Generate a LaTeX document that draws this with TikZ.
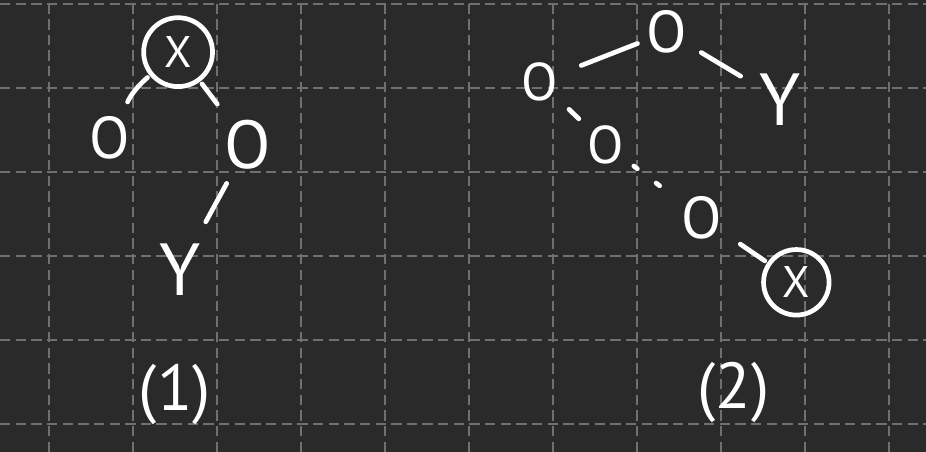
\documentclass[tikz,border=0pt]{standalone}
\usepackage{fontspec}
\setmainfont{PT Sans}
\definecolor{board}{HTML}{2B2A2A}
\definecolor{gridgray}{HTML}{707070}
\tikzset{
  gridline/.style={gridgray, line width=0.4pt, dash pattern=on 3.5pt off 1.8pt},
  chalk/.style={white, line width=1.6pt, line cap=round},
  leaf/.style={text=white, font=\fontsize{20}{24}\selectfont, inner sep=2pt},
  marked/.style={leaf, draw=white, line width=1.6pt, circle, minimum size=0.82cm, inner sep=0pt, font=\fontsize{15}{18}\selectfont},
  caption/.style={text=white, font=\fontsize{22}{26}\selectfont}
}
\begin{document}
\begin{tikzpicture}
      
      \fill[board] (0,0) rectangle (11.024,5.381);
      \useasboundingbox (0,0) rectangle (11.024,5.381);
      
      % grid
      \foreach \x in {0,...,10}{
   	   \draw[gridline] (0.583+\x,0) -- (0.583+\x,5.381);
  	}
      \foreach \y in {0,...,5}{
   	   \draw[gridline] (0,0.333+\y) -- (11.024,0.333+\y);
  	}

	% tree (1)
	\node[marked] (x1) at (2.12,4.76) {X};
	\node[leaf] (l1) at (1.31,3.74) {O};
	\node[leaf, font=\fontsize{23}{26}\selectfont] (r1) at (2.95,3.66) {O};
	\node[leaf, font=\fontsize{25}{28}\selectfont] (y1) at (2.14,2.17) {Y};

	\draw[chalk, shorten <=1pt, shorten >=3pt] (x1) to[bend right=12] (l1);
	\draw[chalk, shorten <=1pt, shorten >=4pt] (x1) -- (r1);
	\draw[chalk, shorten <=3pt, shorten >=6pt] (r1) -- (y1);

	\node[caption] (c1) at (2.08,0.68) {(1)};

	% tree (2)
	\node[leaf] (t2) at (7.94,5.0) {O};
	\node[leaf, font=\fontsize{18}{22}\selectfont] (l2) at (6.43,4.41) {O};
	\node[leaf, font=\fontsize{25}{28}\selectfont] (y2) at (9.29,4.19) {Y};
	\node[leaf, font=\fontsize{18}{22}\selectfont] (m2) at (7.21,3.66) {O};
	\node[leaf] (o2) at (8.35,2.79) {O};
	\node[marked, minimum size=0.78cm] (x2) at (9.48,2.02) {X};

	\draw[chalk, shorten <=6pt, shorten >=1pt] (l2) -- (t2);
	\draw[chalk, shorten <=3pt, shorten >=5pt] (t2) -- (y2);
	\draw[chalk, shorten <=2pt, shorten >=1pt] (l2) -- (m2);
	\draw[chalk, dash pattern=on 1.5pt off 8pt, shorten <=1.5pt] (m2) -- (o2);
	\draw[chalk, shorten <=5pt, shorten >=1pt] (o2) -- (x2);

	\node[caption] (c2) at (8.73,0.71) {(2)};
    \end{tikzpicture}
\end{document}
